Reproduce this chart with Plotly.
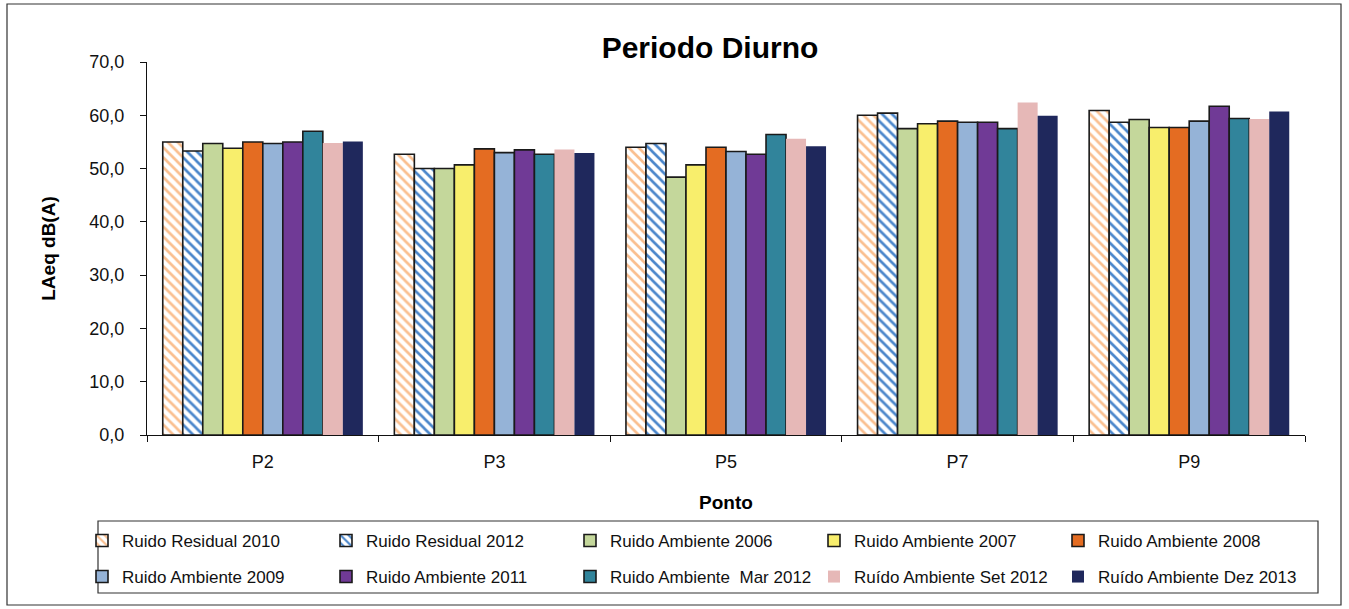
import plotly.graph_objects as go

# ---------------- data ----------------
categories = ["P2", "P3", "P5", "P7", "P9"]

res_2010 = [55.0, 52.7, 54.0, 60.0, 60.9]
res_2012 = [53.3, 50.0, 54.7, 60.4, 58.7]
amb_2006 = [54.7, 50.0, 48.4, 57.5, 59.2]
amb_2007 = [53.8, 50.7, 50.7, 58.4, 57.7]
amb_2008 = [55.0, 53.7, 54.0, 58.9, 57.7]
amb_2009 = [54.7, 53.0, 53.2, 58.7, 58.9]
amb_2011 = [55.0, 53.5, 52.7, 58.7, 61.7]
amb_mar2012 = [57.0, 52.7, 56.4, 57.5, 59.4]
amb_set2012 = [54.8, 53.6, 55.6, 62.4, 59.3]
amb_dez2013 = [55.1, 52.9, 54.2, 59.9, 60.7]

series_names = [
    "Ruido Residual 2010", "Ruido Residual 2012", "Ruido Ambiente 2006",
    "Ruido Ambiente 2007", "Ruido Ambiente 2008", "Ruido Ambiente 2009",
    "Ruido Ambiente 2011", "Ruido Ambiente  Mar 2012", "Ruído Ambiente Set 2012",
    "Ruído Ambiente Dez 2013",
]
series_values = [res_2010, res_2012, amb_2006, amb_2007, amb_2008,
                 amb_2009, amb_2011, amb_mar2012, amb_set2012, amb_dez2013]

y_ticks = [0, 10, 20, 30, 40, 50, 60, 70]

# ---------------- styles ----------------
fills = ["white", "white", "#C4D79B", "#F8EE6C", "#E46C22", "#95B3D7",
         "#703A96", "#31849B", "#E6B8B7", "#1F285C"]
patterns = [
    dict(shape="\\", fgcolor="#FABF8F", bgcolor="white", size=7, solidity=0.38, fillmode="replace"),
    dict(shape="\\", fgcolor="#4A86CB", bgcolor="white", size=7, solidity=0.38, fillmode="replace"),
] + [None] * 8
line_widths = [1.6] * 8 + [0, 0]

# pixel geometry helpers (plot area: x 147..1305, y 62..435)
W, H = 1349, 609
L, R, T, B = 147, 1305, 62, 435


def px(x):
    return (x - L) / (R - L)


def py(y):
    return (B - y) / (B - T)


fig = go.Figure()
for i, (name, vals) in enumerate(zip(series_names, series_values)):
    marker = dict(color=fills[i],
                  line=dict(color="#1a1a1a", width=line_widths[i]))
    if patterns[i] is not None:
        marker["pattern"] = patterns[i]
    fig.add_trace(go.Bar(
        x=categories, y=vals, name=name, marker=marker,
        legend="legend" if i < 5 else "legend2",
    ))

font_family = "Liberation Sans, Arial, sans-serif"

legend_common = dict(
    orientation="h", entrywidth=199, entrywidthmode="pixels",
    bgcolor="rgba(0,0,0,0)", borderwidth=0, xanchor="left", yanchor="middle",
    font=dict(family=font_family, size=17, color="#111"),
    traceorder="normal",
)

fig.update_layout(
    width=W, height=H,
    margin=dict(l=L, r=W - R, t=T, b=H - B),
    paper_bgcolor="white", plot_bgcolor="white",
    separators=",.",
    barmode="group", bargap=0.136, bargroupgap=0,
    font=dict(family=font_family, color="#111"),
    title=dict(text="<b>Periodo Diurno</b>", x=710 / W, xanchor="center",
               y=1 - 47 / H, yanchor="middle", xref="container", yref="container",
               font=dict(family=font_family, size=30, color="#000")),
    xaxis=dict(
        type="category", showline=True, linecolor="#111", linewidth=1.2,
        ticks="outside", ticklen=6, tickcolor="#111", tickson="boundaries",
        tickfont=dict(size=18, color="#111"), ticklabelstandoff=10,
        showgrid=False, zeroline=False,
        title=dict(text="<b>Ponto</b>", font=dict(size=19, color="#000"), standoff=24),
    ),
    yaxis=dict(
        range=[0, 70], tickvals=y_ticks, tickformat=".1f",
        showline=True, linecolor="#111", linewidth=1.2,
        ticks="outside", ticklen=6, tickcolor="#111",
        tickfont=dict(size=18, color="#111"), ticklabelstandoff=12,
        showgrid=False, zeroline=False,
        title=dict(text="<b>LAeq dB(A)</b>", font=dict(size=19, color="#000"), standoff=28),
    ),
    legend=dict(legend_common, x=px(82), y=py(541)),
    legend2=dict(legend_common, x=px(82), y=py(577)),
    shapes=[
        # outer chart frame
        dict(type="rect", xref="paper", yref="paper",
             x0=px(7), x1=px(1341), y0=py(4), y1=py(605),
             line=dict(color="#333", width=1.2), fillcolor="rgba(0,0,0,0)", layer="below"),
        # legend frame
        dict(type="rect", xref="paper", yref="paper",
             x0=px(98), x1=px(1318), y0=py(521), y1=py(593),
             line=dict(color="#333", width=1.2), fillcolor="rgba(0,0,0,0)", layer="below"),
    ],
)

fig.write_html(
    "out.html",
    config={"displayModeBar": False},
    post_script="document.body.style.margin='0';document.body.style.overflow='hidden';",
)
